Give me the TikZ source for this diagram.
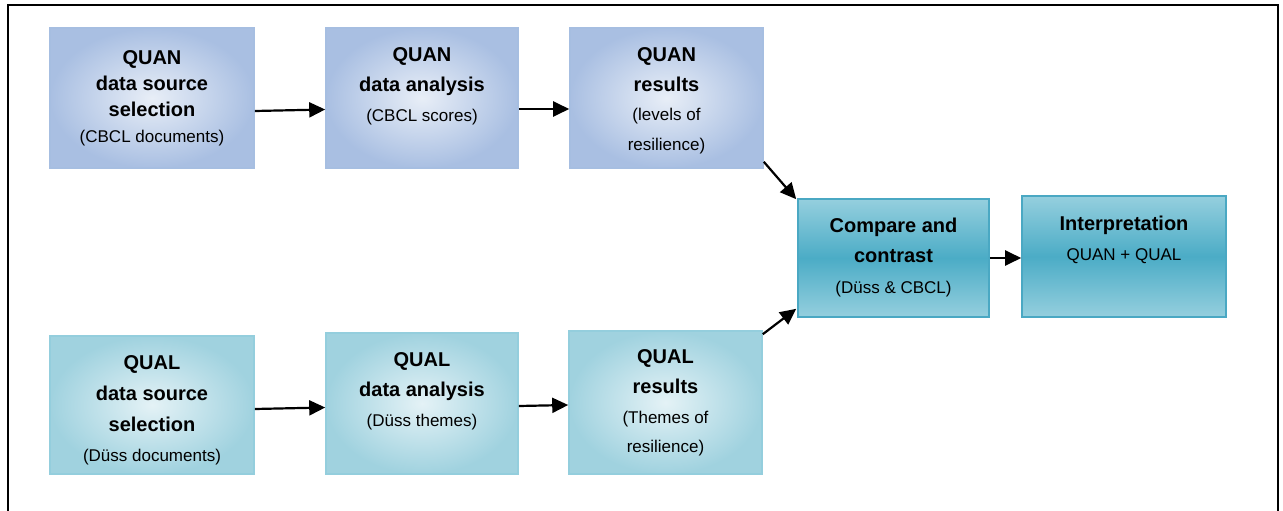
\documentclass[tikz,border=0pt]{standalone}
\usepackage{fontspec}
\setmainfont{Liberation Sans}
\usetikzlibrary{arrows.meta,fit}
\definecolor{quanD}{HTML}{A9BFE2}
\definecolor{quanL}{HTML}{E8EEF7}
\definecolor{quanE}{HTML}{A6BEE1}
\definecolor{qualD}{HTML}{A0D2DF}
\definecolor{qualL}{HTML}{E4F2F6}
\definecolor{qualE}{HTML}{94CEDD}
\definecolor{ccM}{HTML}{4BACC6}
\definecolor{ccL}{HTML}{95CFDE}
\definecolor{ccE}{HTML}{4AA8C3}
\newcommand\ttl[1]{{\fontsize{20}{30}\selectfont\bfseries #1}}
\begin{document}
\begin{tikzpicture}[x=1pt,y=-1pt,
  basebox/.style={inner sep=0pt, line width=1.6pt},
  quanbox/.style={basebox, draw=quanE, inner color=quanL, outer color=quanD},
  qualbox/.style={basebox, draw=qualE, inner color=qualL, outer color=qualD},
  tealbox/.style={basebox, draw=ccE, top color=ccL, bottom color=ccL, middle color=ccM},
  txt/.style={inner sep=0pt, align=center, anchor=north, font=\fontsize{17}{#1}\selectfont},
  txt/.default=30,
  arr/.style={line width=2.2pt, -{Triangle[length=16pt,width=15pt]}}
]
\useasboundingbox (0,0) rectangle (1283,511);
\draw[line width=2pt] (8,512) -- (8,5) -- (1278,5) -- (1278,512);

% boxes
\node[quanbox, fit={(50,28) (254,168)}] (qs) {};
\node[quanbox, fit={(326,28) (518,168)}] (qa) {};
\node[quanbox, fit={(570,28) (763,168)}] (qr) {};
\node[tealbox, fit={(798,199) (989,317)}] (cc) {};
\node[tealbox, fit={(1022,196) (1226,317)}] (ip) {};
\node[qualbox, fit={(50,336) (254,474)}] (ls) {};
\node[qualbox, fit={(326,333) (518,474)}] (la) {};
\node[qualbox, fit={(569,331) (762,474)}] (lr) {};

% texts
\node[txt=26] (qs-t) at (152,50.5) {\ttl{QUAN}\\\ttl{data source}\\\ttl{selection}\\(CBCL documents)};
\node[txt] (qa-t) at (422,47.5) {\ttl{QUAN}\\\ttl{data analysis}\\(CBCL scores)};
\node[txt=29.5] (qr-t) at (666.5,47.5) {\ttl{QUAN}\\\ttl{results}\\(levels of\\resilience)};
\node[txt=30.5] (cc-t) at (893.5,217.5) {\ttl{Compare and}\\\ttl{contrast}\\(Düss \& CBCL)};
\node[txt] (ip-t) at (1124,215.5) {\ttl{Interpretation}\\QUAN + QUAL};
\node[txt=30.7] (ls-t) at (152,355.5) {\ttl{QUAL}\\\ttl{data source}\\\ttl{selection}\\(Düss documents)};
\node[txt] (la-t) at (422,352.5) {\ttl{QUAL}\\\ttl{data analysis}\\(Düss themes)};
\node[txt=29.7] (lr-t) at (665.5,349.5) {\ttl{QUAL}\\\ttl{results}\\(Themes of\\resilience)};

% connectors
\draw[arr] ([yshift=-13pt]qs.east) -- ([yshift=-11.5pt]qa.west);
\draw[arr] ([yshift=-11pt]qa.east) -- ([yshift=-11pt]qr.west);
\draw[arr] ([yshift=7pt]qr.south east) -- ([xshift=-1pt,yshift=-1pt]cc.north west);
\draw[arr] ([yshift=-4pt]lr.north east) -- ([xshift=-1pt,yshift=9pt]cc.south west);
\draw[arr] (cc.east) -- (cc.east -| ip.west);
\draw[arr] ([yshift=-4pt]ls.east) -- ([yshift=-4pt]la.west);
\draw[arr] ([yshift=-2.5pt]la.east) -- ([yshift=-2.5pt]lr.west);
\end{tikzpicture}
\end{document}
